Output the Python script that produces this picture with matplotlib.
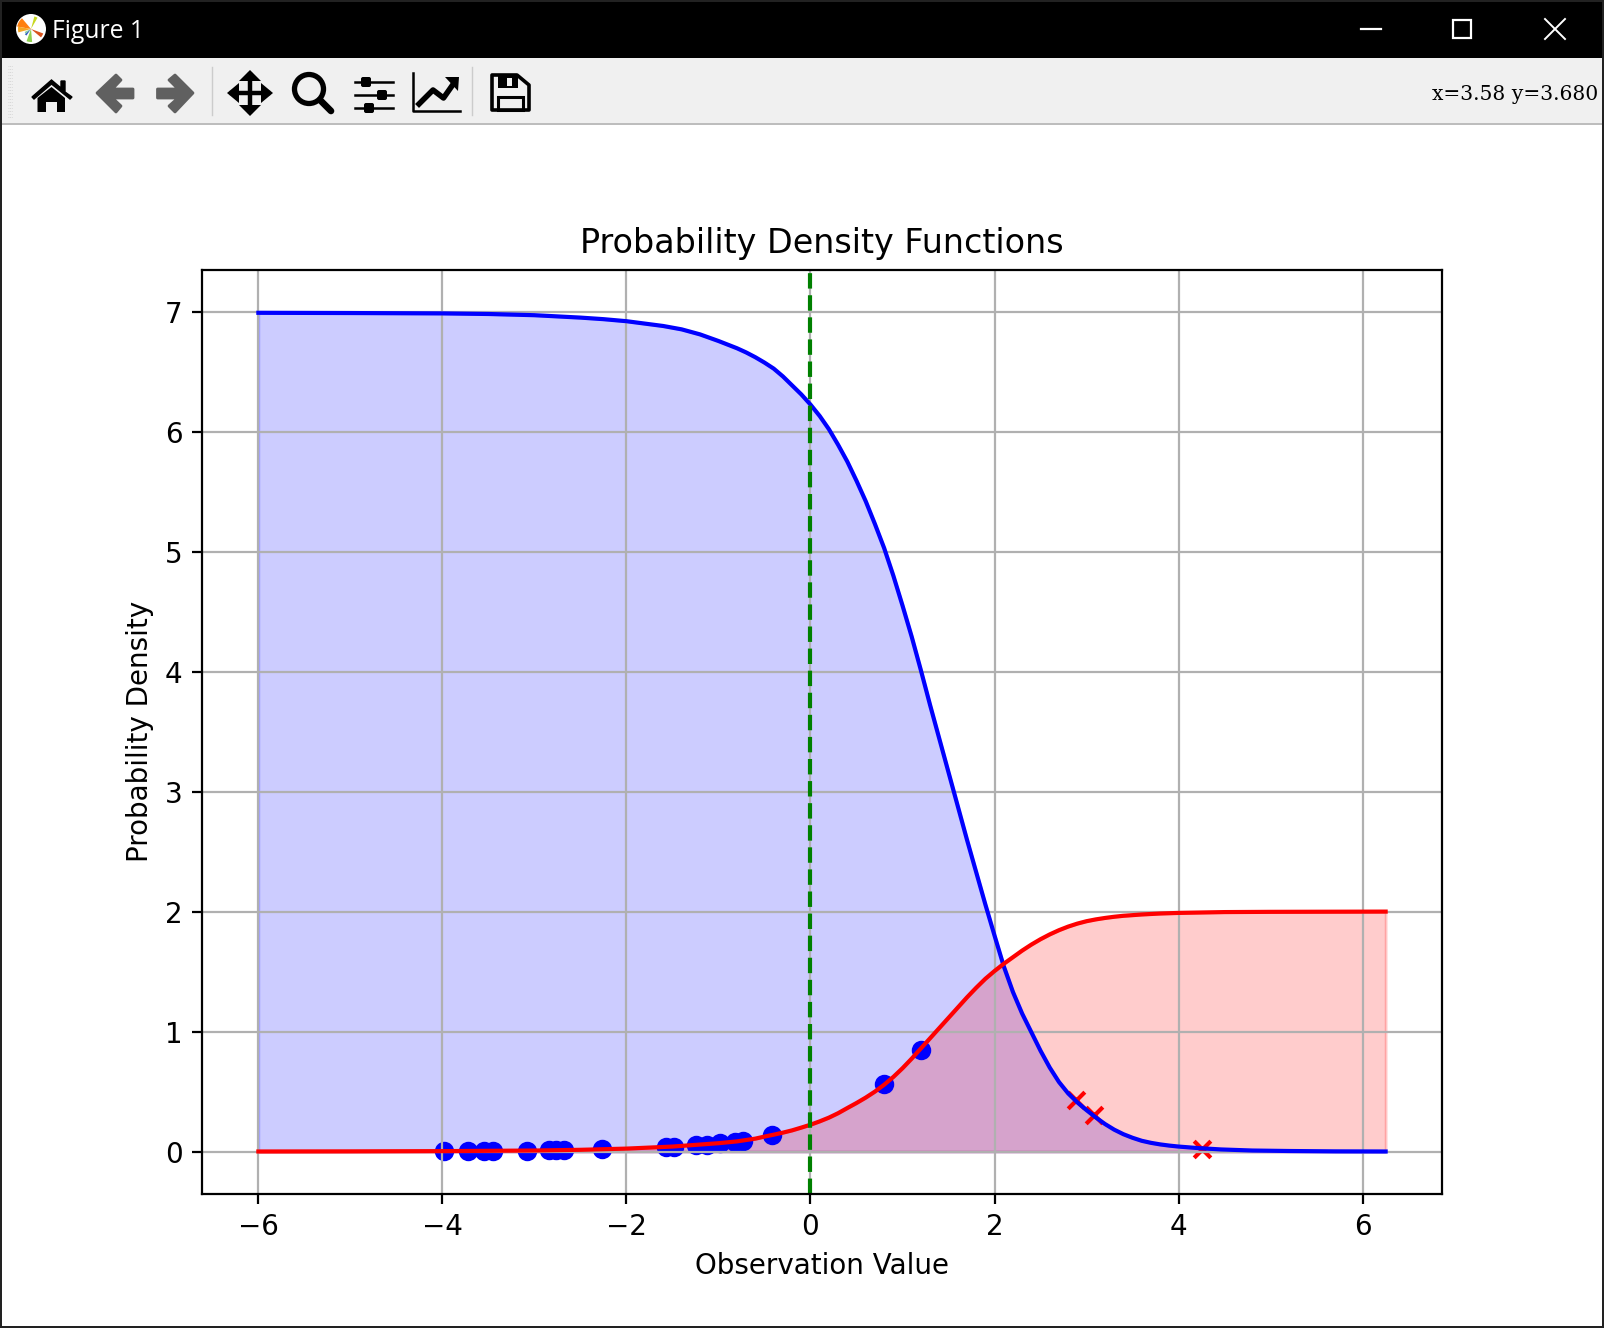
import matplotlib
matplotlib.use('Agg')
import matplotlib.pyplot as plt
from matplotlib.patches import Circle, Polygon, Rectangle, Wedge, FancyBboxPatch

# curves
blue_x = [-6, -5, -4, -3.5, -3, -2.75, -2.5, -2.25, -2, -1.8, -1.6, -1.4, -1.2, -1, -0.9, -0.8, -0.7, -0.6, -0.5,
          -0.4, -0.3, -0.2, -0.1, 0, 0.1, 0.2, 0.3, 0.4, 0.5, 0.6, 0.7, 0.8, 0.9, 1, 1.1, 1.2, 1.3, 1.4, 1.5, 1.6,
          1.7, 1.8, 1.9, 2, 2.1, 2.2, 2.3, 2.4, 2.5, 2.6, 2.7, 2.8, 2.9, 3, 3.1, 3.2, 3.3, 3.4, 3.5, 3.6, 3.7, 3.8,
          3.9, 4, 4.2, 4.46, 4.8, 5.2, 5.7, 6.25]
blue_y = [6.99, 6.988, 6.985, 6.98, 6.97, 6.96, 6.95, 6.937, 6.92, 6.90, 6.88, 6.852, 6.81, 6.755, 6.725, 6.695, 6.66,
          6.62, 6.575, 6.525, 6.46, 6.385, 6.31, 6.225, 6.13, 6.02, 5.89, 5.75, 5.59, 5.42, 5.23, 5.03, 4.8, 4.55, 4.29,
          4.01, 3.72, 3.44, 3.16, 2.88, 2.6, 2.33, 2.06, 1.8, 1.545, 1.33, 1.15, 0.995, 0.84, 0.70, 0.58, 0.485, 0.41,
          0.345, 0.285, 0.23, 0.183, 0.145, 0.115, 0.09, 0.073, 0.06, 0.05, 0.042, 0.03, 0.018, 0.009, 0.005, 0.002, 0.001]

red_x = [-6, -5, -4, -3, -2.5, -2, -1.5, -1, -0.8, -0.6, -0.5, -0.4, -0.3, -0.2, -0.1, 0, 0.1, 0.2, 0.3, 0.4, 0.5,
         0.6, 0.7, 0.8, 0.9, 1, 1.1, 1.2, 1.3, 1.4, 1.5, 1.6, 1.7, 1.8, 1.9, 2, 2.1, 2.2, 2.3, 2.4, 2.5, 2.6, 2.7,
         2.8, 2.9, 3, 3.1, 3.2, 3.3, 3.4, 3.6, 3.8, 4, 4.5, 5, 5.6, 6.25]
red_y = [0.001, 0.002, 0.004, 0.009, 0.015, 0.025, 0.042, 0.07, 0.085, 0.108, 0.125, 0.141, 0.158, 0.177, 0.2, 0.224,
         0.252, 0.283, 0.32, 0.363, 0.405, 0.45, 0.5, 0.557, 0.622, 0.695, 0.775, 0.86, 0.945, 1.03, 1.115, 1.2, 1.285,
         1.365, 1.44, 1.505, 1.565, 1.62, 1.675, 1.725, 1.77, 1.81, 1.845, 1.875, 1.9, 1.92, 1.935, 1.947, 1.957, 1.965,
         1.976, 1.984, 1.989, 1.996, 1.998, 1.999, 2.0]

# observations
blue_pts_x = [-3.986, -3.725, -3.551, -3.449, -3.083, -2.844, -2.761, -2.674, -2.268, -1.569, -1.486, -1.239,
              -1.123, -0.978, -0.815, -0.732, -0.417, 0.797, 1.196]
blue_pts_y = [0.003, 0.004, 0.005, 0.005, 0.008, 0.011, 0.012, 0.013, 0.02, 0.037, 0.041, 0.052,
              0.059, 0.069, 0.083, 0.09, 0.135, 0.56, 0.85]
red_pts_x = [2.88, 3.076, 4.257]
red_pts_y = [0.43, 0.303, 0.022]

xticks = [-6, -4, -2, 0, 2, 4, 6]
yticks = [0, 1, 2, 3, 4, 5, 6, 7]

fig = plt.figure(figsize=(8.02, 6.64), dpi=200)

# ---- window frame, drawn in pixel coords ----
win = fig.add_axes([0, 0, 1, 1])
win.set_xlim(0, 1604)
win.set_ylim(1328, 0)
win.axis('off')

win.add_patch(Rectangle((0, 0), 1604, 58, fc='black', ec='none'))
win.add_patch(Rectangle((0, 0), 1604, 2, fc='#222222', ec='none'))
win.add_patch(Rectangle((2, 58), 1600, 65, fc='#f0f0f0', ec='none'))
win.add_patch(Rectangle((2, 123), 1600, 2, fc='#bdbdbd', ec='none'))
for r in [(0, 0, 2, 1328), (1602, 0, 2, 1328), (0, 1326, 1604, 2)]:
    win.add_patch(Rectangle((r[0], r[1]), r[2], r[3], fc='#222222', ec='none'))

# app icon (y axis is flipped here, so angles run clockwise)
win.add_patch(Circle((31, 29), 15, fc='white', ec='none'))
for a1, a2, r, c in [(190, 230, 14, '#ff7f0e'), (165, 190, 13, '#f5a623'), (85, 110, 13, '#8fd14f'),
                     (285, 300, 13, '#c8d820'), (20, 40, 13, '#d9541e'), (125, 140, 8, '#3060c0'),
                     (140, 155, 7, '#7fc8a0')]:
    win.add_patch(Wedge((31, 29), r, a1, a2, fc=c, ec='none'))
win.text(52, 32, 'Figure 1', color='white', fontsize=8.9, family='Open Sans', va='center', ha='left')

# window buttons
win.plot([1361, 1381], [29, 29], color='white', lw=0.8)
win.add_patch(Rectangle((1453, 20), 18, 18, fc='none', ec='white', lw=0.8))
win.plot([1545, 1565], [19, 39], color='white', lw=0.7)
win.plot([1545, 1565], [39, 19], color='white', lw=0.7)

# toolbar grip and separators
for gy in range(66, 118, 3):
    win.plot([8, 13], [gy, gy], color='#d0d0d0', lw=0.3, ls=(0, (1, 1)))
win.plot([212, 212], [67, 115], color='#cccccc', lw=0.5)
win.plot([471.5, 471.5], [67, 115], color='#cccccc', lw=0.5)

# home
win.add_patch(Polygon([(32, 97), (51.5, 80), (61, 88), (61, 81), (65, 81), (65, 92), (72, 97), (70, 99), (51.5, 84), (34, 99)],
                      fc='black', ec='black', lw=0.5))
win.add_patch(Polygon([(37.5, 98), (51.5, 87), (65, 98), (65, 112), (57, 112), (57, 102), (46, 102), (46, 112), (37.5, 112)],
                      fc='black', ec='none'))

# back / forward
gr = '#606060'
win.add_patch(Polygon([(97, 93), (116, 75), (121, 80), (112.5, 89), (133, 89), (133, 98), (112.5, 98), (121, 106), (116, 112)],
                      fc=gr, ec=gr, lw=1.0, joinstyle='round'))
win.add_patch(Polygon([(193, 93), (175, 75), (169, 80), (178, 89), (157.5, 89), (157.5, 98), (178, 98), (169, 106), (175, 112)],
                      fc=gr, ec=gr, lw=1.0, joinstyle='round'))

# pan
win.plot([250, 250], [75, 111], color='black', lw=1.6)
win.plot([232, 268], [93, 93], color='black', lw=1.6)
win.add_patch(Polygon([(250, 70), (261, 81), (239, 81)], fc='black', ec='none'))
win.add_patch(Polygon([(250, 116), (261, 105), (239, 105)], fc='black', ec='none'))
win.add_patch(Polygon([(227, 93), (239, 83), (239, 103)], fc='black', ec='none'))
win.add_patch(Polygon([(273, 93), (261, 83), (261, 103)], fc='black', ec='none'))

# zoom
win.add_patch(Circle((309, 89), 14.5, fc='none', ec='black', lw=1.9))
win.plot([320, 331], [100, 111], color='black', lw=2.4, solid_capstyle='round')

# sliders
for ly, kx in [(82, 366), (95, 382), (108, 369)]:
    win.plot([355, 393], [ly, ly], color='black', lw=0.9)
    win.add_patch(FancyBboxPatch((kx - 5, ly - 5), 10, 10, boxstyle='round,pad=0,rounding_size=2', fc='black', ec='none'))

# subplots/axes edit icon
win.plot([412.5, 412.5, 460], [73, 111, 111], color='black', lw=0.9)
win.plot([419, 433, 443.5, 454], [104, 90, 98, 83], color='black', lw=2.0)
win.add_patch(Polygon([(445, 77), (459, 77), (458, 91)], fc='black', ec='none'))

# save
win.add_patch(Polygon([(492, 75), (517, 75), (529, 85), (529, 110), (492, 110)], fc='none', ec='black', lw=1.3, joinstyle='round'))
win.add_patch(Rectangle((498, 76), 20, 12, fc='black', ec='none'))
win.add_patch(Rectangle((507, 78), 5, 8, fc='#f0f0f0', ec='none'))
win.add_patch(Rectangle((498, 97), 25, 13, fc='none', ec='black', lw=1.1))

win.text(1598, 95, 'x=3.58 y=3.680', color='black', fontsize=7.3, family='DejaVu Serif', va='center', ha='right')

# ---- the chart ----
ax = fig.add_axes([202 / 1604, (1328 - 1193.6) / 1328, 1240 / 1604, 924 / 1328])

ax.plot(blue_x, blue_y, color='blue')
ax.fill_between(blue_x, blue_y, color='blue', alpha=0.2)
ax.plot(red_x, red_y, color='red')
ax.fill_between(red_x, red_y, color='red', alpha=0.2)
ax.scatter(blue_pts_x, blue_pts_y, color='blue', marker='o')
ax.scatter(red_pts_x, red_pts_y, color='red', marker='x')
ax.axvline(x=0, color='green', linestyle='--')

ax.set_xticks(xticks)
ax.set_yticks(yticks)
ax.set_xlim(-6.6125, 6.8625)
ax.set_ylim(-0.35, 7.35)
ax.grid(True)
ax.set_title('Probability Density Functions')
ax.set_xlabel('Observation Value')
ax.set_ylabel('Probability Density')

fig.savefig('out.png', dpi=200)
